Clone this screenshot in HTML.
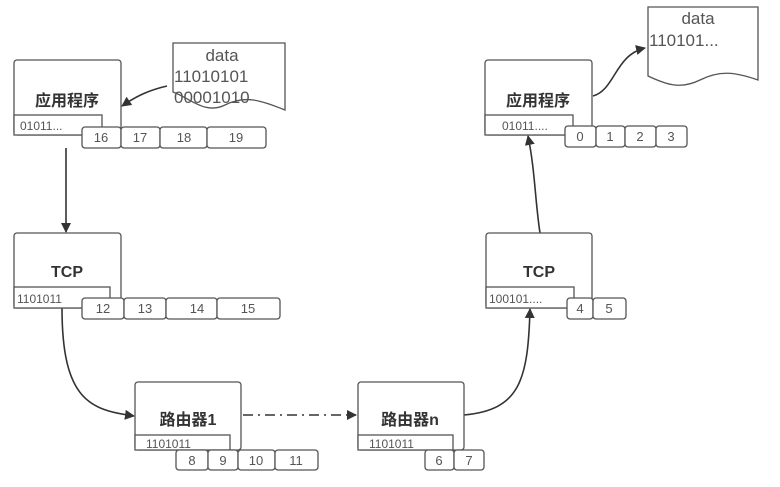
<!DOCTYPE html>
<html><head><meta charset="utf-8"><style>
body{margin:0;background:#fff}
svg text{font-family:"Liberation Sans","Noto Sans CJK SC",sans-serif;fill:#555}
.b{fill:#fff;stroke:#555;stroke-width:1.3}
.c{fill:#fff;stroke:#555;stroke-width:1.3}
.t{font-size:13px;text-anchor:middle}
.h{font-size:16px;font-weight:bold;text-anchor:middle;fill:#333}
.s{font-size:12px}
.l{fill:none;stroke:#333;stroke-width:1.6}
</style></head><body>
<svg width="780" height="482" viewBox="0 0 780 482" xmlns="http://www.w3.org/2000/svg">
<defs><marker id="a" markerWidth="10" markerHeight="10" refX="9" refY="5" orient="auto" markerUnits="userSpaceOnUse"><path d="M0,0 L10,5 L0,10 Z" fill="#333"/></marker></defs>

<!-- left doc -->
<path class="b" d="M173,43 H285 V110 C260,100 245,95 225,105 C205,115 190,98 173,92 Z"/>
<text x="222" y="61" style="font-size:17px" text-anchor="middle">data</text>
<text x="174" y="82" style="font-size:17px">11010101</text>
<text x="174" y="103" style="font-size:17px">00001010</text>
<!-- right doc -->
<path class="b" d="M648,7 H758 V80 C735,72 720,70 700,80 C680,90 665,84 648,76 Z"/>
<text x="698" y="24" style="font-size:17px" text-anchor="middle">data</text>
<text x="649" y="46" style="font-size:17px">110101...</text>

<!-- connectors -->
<path class="l" d="M167,86 C150,90 138,95 122,106" marker-end="url(#a)"/>
<path class="l" d="M593,96 C615,90 615,55 645,48" marker-end="url(#a)"/>
<path class="l" d="M66,148 V232" marker-end="url(#a)"/>
<path class="l" d="M62,308 C62,400 90,410 134,416" marker-end="url(#a)"/>
<path class="l" d="M243,415 H356" stroke-dasharray="10,5,2,5" marker-end="url(#a)"/>
<path class="l" d="M464,415 C520,410 528,380 530,309" marker-end="url(#a)"/>
<path class="l" d="M540,233 C535,200 535,170 528,136" marker-end="url(#a)"/>

<!-- left app -->
<rect class="b" x="14" y="60" width="107" height="75" rx="3"/>
<text class="h" x="67" y="106">应用程序</text>
<rect class="b" x="14" y="115" width="88" height="20"/>
<text class="s" x="20" y="130">01011...</text>
<rect class="c" x="82" y="127" width="39" height="21" rx="3"/><text class="t" x="101" y="142">16</text>
<rect class="c" x="121" y="127" width="39" height="21" rx="3"/><text class="t" x="140" y="142">17</text>
<rect class="c" x="160" y="127" width="47" height="21" rx="3"/><text class="t" x="184" y="142">18</text>
<rect class="c" x="207" y="127" width="59" height="21" rx="3"/><text class="t" x="236" y="142">19</text>

<!-- left TCP -->
<rect class="b" x="14" y="233" width="107" height="75" rx="3"/>
<text class="h" x="67" y="277">TCP</text>
<rect class="b" x="14" y="287" width="96" height="21"/>
<text class="s" x="17" y="303">1101011</text>
<rect class="c" x="82" y="298" width="42" height="21" rx="3"/><text class="t" x="103" y="313">12</text>
<rect class="c" x="124" y="298" width="42" height="21" rx="3"/><text class="t" x="145" y="313">13</text>
<rect class="c" x="166" y="298" width="51" height="21" rx="3"/><text class="t" x="197" y="313">14</text>
<rect class="c" x="217" y="298" width="63" height="21" rx="3"/><text class="t" x="248" y="313">15</text>

<!-- router 1 -->
<rect class="b" x="135" y="382" width="106" height="68" rx="3"/>
<text class="h" x="188" y="425">路由器1</text>
<rect class="b" x="135" y="435" width="95" height="15"/>
<text class="s" x="146" y="448">1101011</text>
<rect class="c" x="176" y="450" width="32" height="20" rx="3"/><text class="t" x="192" y="465">8</text>
<rect class="c" x="208" y="450" width="30" height="20" rx="3"/><text class="t" x="223" y="465">9</text>
<rect class="c" x="238" y="450" width="37" height="20" rx="3"/><text class="t" x="256" y="465">10</text>
<rect class="c" x="275" y="450" width="43" height="20" rx="3"/><text class="t" x="296" y="465">11</text>

<!-- router n -->
<rect class="b" x="358" y="382" width="106" height="68" rx="3"/>
<text class="h" x="410" y="425">路由器n</text>
<rect class="b" x="358" y="435" width="95" height="15"/>
<text class="s" x="369" y="448">1101011</text>
<rect class="c" x="425" y="450" width="29" height="20" rx="3"/><text class="t" x="439" y="465">6</text>
<rect class="c" x="454" y="450" width="30" height="20" rx="3"/><text class="t" x="469" y="465">7</text>

<!-- right TCP -->
<rect class="b" x="486" y="233" width="106" height="75" rx="3"/>
<text class="h" x="539" y="277">TCP</text>
<rect class="b" x="486" y="287" width="88" height="21"/>
<text class="s" x="489" y="303">100101....</text>
<rect class="c" x="567" y="298" width="26" height="21" rx="3"/><text class="t" x="580" y="313">4</text>
<rect class="c" x="593" y="298" width="33" height="21" rx="3"/><text class="t" x="609" y="313">5</text>

<!-- right app -->
<rect class="b" x="485" y="60" width="107" height="75" rx="3"/>
<text class="h" x="538" y="106">应用程序</text>
<rect class="b" x="485" y="115" width="88" height="20"/>
<text class="s" x="502" y="130">01011....</text>
<rect class="c" x="565" y="126" width="31" height="21" rx="3"/><text class="t" x="580" y="141">0</text>
<rect class="c" x="596" y="126" width="29" height="21" rx="3"/><text class="t" x="610" y="141">1</text>
<rect class="c" x="625" y="126" width="31" height="21" rx="3"/><text class="t" x="640" y="141">2</text>
<rect class="c" x="656" y="126" width="31" height="21" rx="3"/><text class="t" x="671" y="141">3</text>
</svg>
</body></html>
